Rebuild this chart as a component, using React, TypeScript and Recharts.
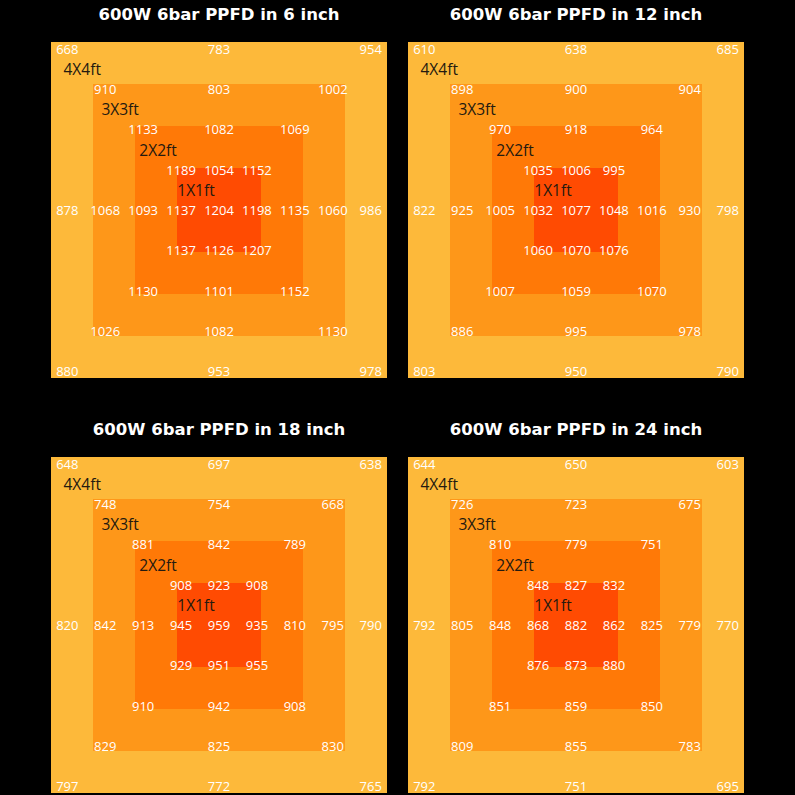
import React from 'react';
import {
  ScatterChart,
  Scatter,
  XAxis,
  YAxis,
  ReferenceArea,
} from 'recharts';

// ring order: top-left, top, top-right, left, right, bottom-left, bottom, bottom-right
const heights = ['6', '12', '18', '24'];
const centers = [1204, 1077, 959, 882];

const ring1 = [
  [1189, 1054, 1152, 1137, 1198, 1137, 1126, 1207],
  [1035, 1006, 995, 1032, 1048, 1060, 1070, 1076],
  [908, 923, 908, 945, 935, 929, 951, 955],
  [848, 827, 832, 868, 862, 876, 873, 880],
];
const ring2 = [
  [1133, 1082, 1069, 1093, 1135, 1130, 1101, 1152],
  [970, 918, 964, 1005, 1016, 1007, 1059, 1070],
  [881, 842, 789, 913, 810, 910, 942, 908],
  [810, 779, 751, 848, 825, 851, 859, 850],
];
const ring3 = [
  [910, 803, 1002, 1068, 1060, 1026, 1082, 1130],
  [898, 900, 904, 925, 930, 886, 995, 978],
  [748, 754, 668, 842, 795, 829, 825, 830],
  [726, 723, 675, 805, 779, 809, 855, 783],
];
const ring4 = [
  [668, 783, 954, 878, 986, 880, 953, 978],
  [610, 638, 685, 822, 798, 803, 950, 790],
  [648, 697, 638, 820, 790, 797, 772, 765],
  [644, 650, 603, 792, 770, 792, 751, 695],
];

const zoneNames = ['1X1ft', '2X2ft', '3X3ft', '4X4ft'];
const zoneColors = ['#FF4B02', '#FF7907', '#FE9719', '#FDB93A'];

const DIRS = [
  [-1, 1], [0, 1], [1, 1],
  [-1, 0], [1, 0],
  [-1, -1], [0, -1], [1, -1],
];

// spacing of the reading grid, in feet
const COL_STEP = 2 / 4.43;
const ROW_STEP = 2 / 4.17;

const VALUE_FONT = '"Open Sans", "Noto Sans", sans-serif';

const ValueText = (props: any) => {
  const { cx, cy, payload } = props;
  return (
    <text
      x={cx}
      y={cy}
      textAnchor="middle"
      dominantBaseline="central"
      fill="#ffffff"
      fontSize={13}
      fontFamily={VALUE_FONT}
    >
      {payload.v}
    </text>
  );
};

const ZoneText = (props: any) => {
  const { cx, cy, payload } = props;
  return (
    <text
      x={cx}
      y={cy}
      textAnchor="start"
      dominantBaseline="central"
      fill="#241a10"
      fontSize={15.5}
      fontFamily={VALUE_FONT}
    >
      {payload.name}
    </text>
  );
};

const Panel = ({ idx }: { idx: number }) => {
  const rings = [ring1[idx], ring2[idx], ring3[idx], ring4[idx]];
  const points: { x: number; y: number; v: number }[] = [
    { x: 0, y: 0, v: centers[idx] },
  ];
  rings.forEach((r, k) => {
    r.forEach((v, i) => {
      points.push({
        x: DIRS[i][0] * (k + 1) * COL_STEP,
        y: DIRS[i][1] * (k + 1) * ROW_STEP,
        v,
      });
    });
  });
  const zones = zoneNames.map((name, k) => ({
    x: (-(k + 1) - 0.1) * COL_STEP,
    y: (k + 0.5) * ROW_STEP,
    name,
  }));

  return (
    <ScatterChart
      width={356}
      height={356}
      margin={{ top: 10, right: 10, bottom: 10, left: 10 }}
    >
      <XAxis type="number" dataKey="x" domain={[-2, 2]} allowDataOverflow hide />
      <YAxis type="number" dataKey="y" domain={[-2, 2]} allowDataOverflow hide />
      {[3, 2, 1, 0].map((k) => {
        const h = (k + 1) / 2;
        return (
          <ReferenceArea
            key={k}
            x1={-h}
            x2={h}
            y1={-h}
            y2={h}
            fill={zoneColors[k]}
            fillOpacity={1}
            stroke="none"
          />
        );
      })}
      <Scatter data={zones} shape={ZoneText} isAnimationActive={false} />
      <Scatter data={points} shape={ValueText} isAnimationActive={false} />
    </ScatterChart>
  );
};

const PANELS = [
  { left: 51, top: 42 },
  { left: 408, top: 42 },
  { left: 51, top: 457 },
  { left: 408, top: 457 },
];

export default function App() {
  return (
    <div
      style={{
        position: 'fixed',
        left: 0,
        top: 0,
        width: 795,
        height: 795,
        background: '#000',
        overflow: 'hidden',
      }}
    >
      {PANELS.map((p, i) => (
        <React.Fragment key={i}>
          <div
            style={{
              position: 'absolute',
              left: p.left,
              top: p.top - 40,
              width: 336,
              textAlign: 'center',
              color: '#fff',
              fontFamily: '"DejaVu Sans", sans-serif',
              fontWeight: 'bold',
              fontSize: 16.5,
              lineHeight: '25px',
            }}
          >
            {`600W 6bar PPFD in ${heights[i]} inch`}
          </div>
          <div style={{ position: 'absolute', left: p.left - 10, top: p.top - 10 }}>
            <Panel idx={i} />
          </div>
        </React.Fragment>
      ))}
    </div>
  );
}
